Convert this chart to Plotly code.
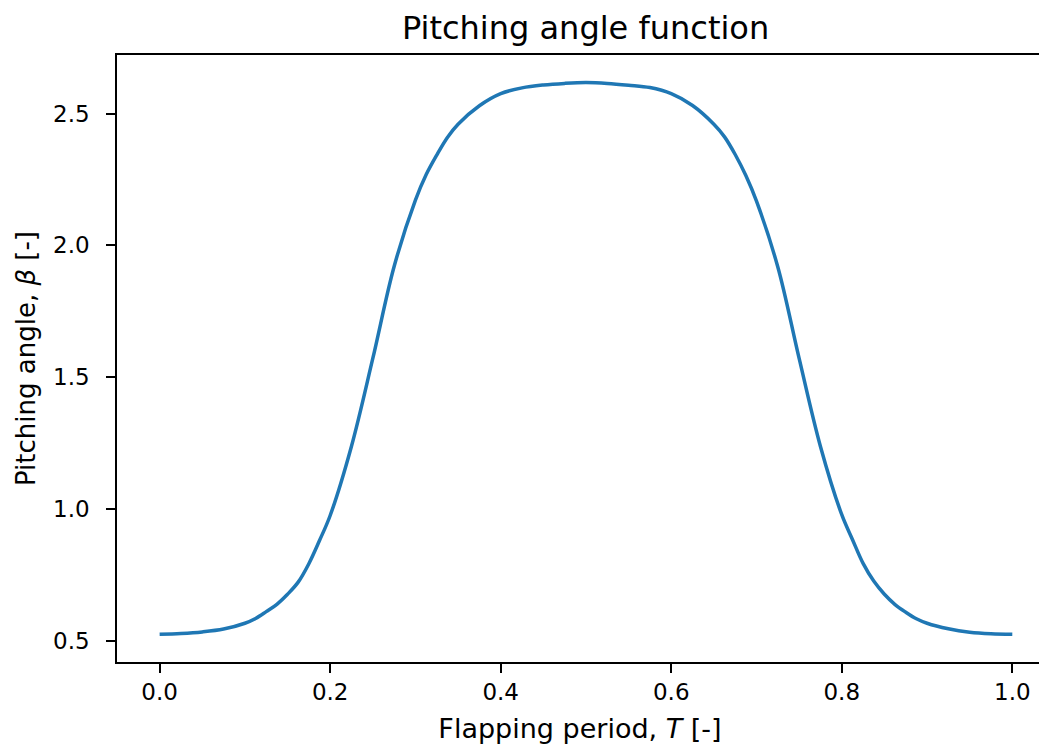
import plotly.graph_objects as go

# Values
period = [0.000, 0.025, 0.050, 0.075, 0.100, 0.1125, 0.125, 0.1375, 0.150, 0.1625,
          0.175, 0.1875, 0.200, 0.225, 0.250, 0.275, 0.300, 0.3125, 0.325, 0.3375,
          0.350, 0.375, 0.400, 0.425, 0.450, 0.475, 0.500, 0.525, 0.550, 0.575,
          0.600, 0.625, 0.650, 0.6625, 0.675, 0.6875, 0.700, 0.725, 0.750, 0.775,
          0.800, 0.8125, 0.825, 0.8375, 0.850, 0.8625, 0.875, 0.8875, 0.900, 0.925,
          0.950, 0.975, 1.000]
pitch = [0.524, 0.527, 0.533, 0.544, 0.566, 0.584, 0.610, 0.638, 0.676, 0.722,
         0.792, 0.880, 0.975, 1.238, 1.571, 1.920, 2.172, 2.268, 2.343, 2.410,
         2.460, 2.530, 2.576, 2.598, 2.609, 2.615, 2.618, 2.615, 2.608, 2.599,
         2.576, 2.531, 2.460, 2.412, 2.345, 2.265, 2.168, 1.918, 1.571, 1.237,
         0.978, 0.884, 0.793, 0.726, 0.676, 0.637, 0.608, 0.583, 0.566, 0.545,
         0.532, 0.526, 0.524]

x_ticks = [0.0, 0.2, 0.4, 0.6, 0.8, 1.0]
y_ticks = [0.5, 1.0, 1.5, 2.0, 2.5]

FONT = 'DejaVu Sans'

fig = go.Figure()

fig.add_trace(
    go.Scatter(
        x=period,
        y=pitch,
        mode='lines',
        line=dict(color='#1f77b4', width=3.5, shape='spline', smoothing=1.0),
        showlegend=False,
    )
)

axis_style = dict(
    showline=True,
    mirror=True,
    linecolor='black',
    linewidth=1.6,
    showgrid=False,
    zeroline=False,
    ticks='outside',
    ticklen=9,
    tickwidth=1.6,
    tickcolor='black',
    tickformat='.1f',
    tickfont=dict(family=FONT, size=23, color='black'),
)

# the page puts the figure 8px in from the top-left corner
fig.update_layout(
    width=1039,
    height=736,
    paper_bgcolor='white',
    plot_bgcolor='white',
    margin=dict(l=109, r=2, t=47, b=80),
    title=dict(
        text='Pitching angle function',
        x=0.506,
        xref='paper',
        xanchor='center',
        y=1 - 20 / 736,
        yref='container',
        yanchor='middle',
        font=dict(family=FONT, size=32, color='black'),
    ),
    xaxis=dict(
        axis_style,
        range=[-0.05, 1.036],
        tickvals=x_ticks,
        title=dict(text='Flapping period, <i>T</i> [-]', standoff=18,
                   font=dict(family=FONT, size=27, color='black')),
    ),
    yaxis=dict(
        axis_style,
        range=[0.4189, 2.7227],
        tickvals=y_ticks,
        ticklabelstandoff=12,
        title=dict(text='Pitching angle, <i>β</i> [-]', standoff=10,
                   font=dict(family=FONT, size=26, color='black')),
    ),
)

fig.write_html("out.html")
